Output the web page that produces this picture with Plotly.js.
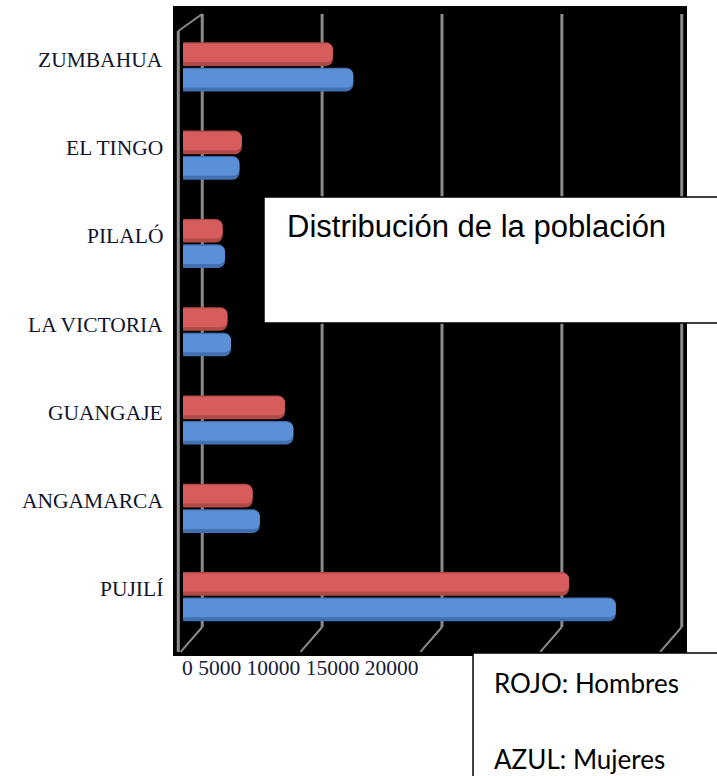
<!DOCTYPE html>
<html>
<head>
<meta charset="utf-8">
<script src="https://cdn.plot.ly/plotly-3.0.1.min.js"></script>
<style>html,body{margin:0;padding:0;background:#fff;}#chart{width:717px;height:776px;}</style>
</head>
<body>
<div id="chart"></div>
<script>
// Data (top to bottom as in the chart)
const categories = ["ZUMBAHUA", "EL TINGO", "PILALÓ", "LA VICTORIA", "GUANGAJE", "ANGAMARCA", "PUJILÍ"];
const hombres = [6250, 2450, 1650, 1850, 4250, 2900, 16100];   // ROJO
const mujeres = [7100, 2350, 1750, 2000, 4600, 3200, 18050];   // AZUL
const xTicks = [0, 5000, 10000, 15000, 20000];
const axisText = "0 5000 10000 15000 20000";
const titleText = "Distribución de la población";
const legendLines = ["ROJO: Hombres", "AZUL: Mujeres"];

// Styles
const pos = categories.map((c, i) => i);
const W = 0.268;
const redOff = -0.276, blueOff = 0.012;
const depth = 800;

function barPair(vals, off, dark, main) {
  return [
    {type: 'bar', orientation: 'h', x: vals, y: pos, offset: off, width: W,
     marker: {color: dark, cornerradius: 7, line: {width: 0}}, hoverinfo: 'skip'},
    {type: 'bar', orientation: 'h', x: vals, y: pos, offset: off + 0.015, width: W - 0.06,
     marker: {color: main, cornerradius: 6, line: {width: 0}}, hoverinfo: 'skip'}
  ];
}

const traces = [].concat(
  barPair(hombres, redOff, '#b04a47', '#d65d5b'),
  barPair(mujeres, blueOff, '#4370b0', '#5b8fd6')
);

const gridCol = '#8a8a8a';
const shapes = [];
xTicks.forEach(t => {
  shapes.push({type: 'line', xref: 'x', yref: 'paper', x0: t + depth, x1: t + depth, y0: 0.0446, y1: 0.9877,
    line: {color: gridCol, width: 3}, layer: 'below'});
  shapes.push({type: 'line', xref: 'x', yref: 'paper', x0: t + depth, x1: t - 100, y0: 0.0446, y1: 0.0062,
    line: {color: gridCol, width: 2}, layer: 'below'});
});
// left wall
shapes.push({type: 'line', xref: 'x', yref: 'paper', x0: -200, x1: -200, y0: 0.006, y1: 0.9615,
  line: {color: gridCol, width: 3}, layer: 'below'});
shapes.push({type: 'line', xref: 'x', yref: 'paper', x0: -200, x1: depth, y0: 0.9615, y1: 0.9877,
  line: {color: gridCol, width: 2}, layer: 'below'});
// title box
shapes.push({type: 'rect', xref: 'paper', yref: 'paper', x0: 0.177, x1: 1.2, y0: 0.5123, y1: 0.7062,
  fillcolor: '#ffffff', line: {color: '#000', width: 1.5}, layer: 'above'});
// legend box
shapes.push({type: 'rect', xref: 'paper', yref: 'paper', x0: 0.5837, x1: 1.2, y0: -0.25, y1: 0.0046,
  fillcolor: '#ffffff', line: {color: '#000', width: 1.5}, layer: 'above'});

const annotations = categories.map((c, i) => ({
  xref: 'paper', yref: 'y', x: 0, y: i, xanchor: 'right', yanchor: 'middle', xshift: -8, yshift: 7,
  text: c, showarrow: false, font: {family: 'Liberation Serif', size: 21.5, color: '#10142c'}
}));
annotations.push({xref: 'paper', yref: 'paper', x: 0.0136, y: -0.0185, xanchor: 'left', yanchor: 'middle',
  text: axisText, showarrow: false, font: {family: 'Liberation Serif', size: 21.5, color: '#161c3a'}});
annotations.push({xref: 'paper', yref: 'paper', x: 0.2179, y: 0.6615, xanchor: 'left', yanchor: 'middle',
  text: titleText, showarrow: false, font: {family: 'Liberation Sans', size: 31, color: '#000'}});
annotations.push({xref: 'paper', yref: 'paper', x: 0.6206, y: -0.0415, xanchor: 'left', yanchor: 'middle',
  text: legendLines[0], showarrow: false, font: {family: 'Lato', size: 26, color: '#000'}});
annotations.push({xref: 'paper', yref: 'paper', x: 0.6206, y: -0.158, xanchor: 'left', yanchor: 'middle',
  text: legendLines[1], showarrow: false, font: {family: 'Lato', size: 26, color: '#000'}});

const layout = {
  width: 717, height: 776,
  margin: {l: 173, r: 30, t: 6, b: 120, pad: 0},
  paper_bgcolor: '#ffffff', plot_bgcolor: '#000000',
  barmode: 'overlay', showlegend: false,
  xaxis: {range: [-420, 21020], showgrid: false, zeroline: false, showticklabels: false, ticks: '', fixedrange: true},
  yaxis: {range: [6.674, -0.687], showgrid: false, zeroline: false, showticklabels: false, ticks: '', fixedrange: true},
  shapes: shapes, annotations: annotations
};

Plotly.newPlot('chart', traces, layout, {displayModeBar: false, staticPlot: true});
</script>
</body>
</html>
